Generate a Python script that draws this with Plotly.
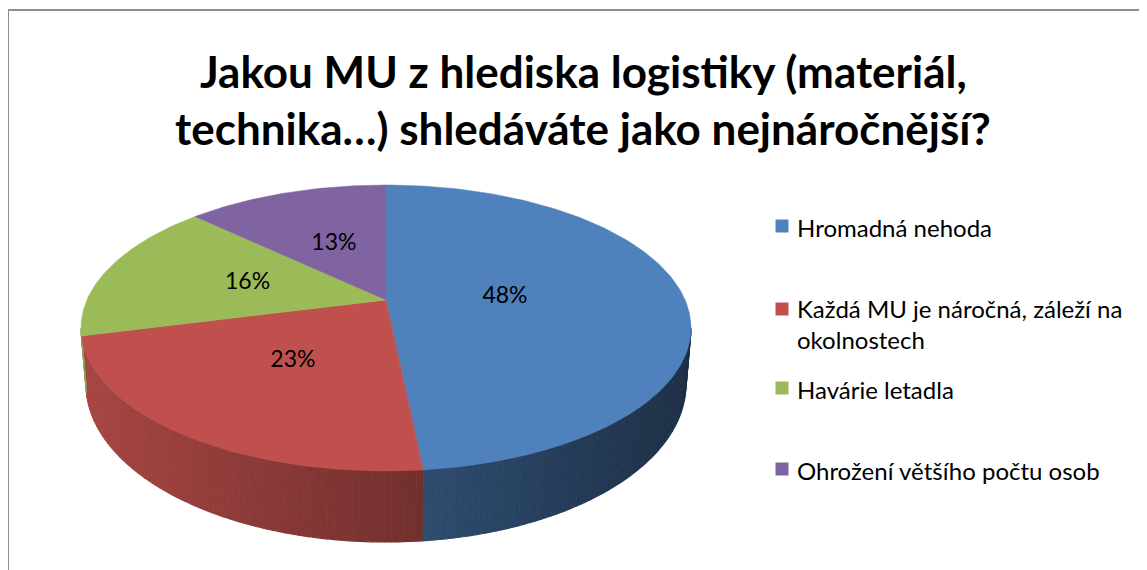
import math
import plotly.graph_objects as go

# ---- data ----
categories = ["Hromadná nehoda",
              "Každá MU je náročná, záleží na<br>okolnostech",
              "Havárie letadla",
              "Ohrožení většího počtu osob"]
values = [48.4, 22.6, 16.1, 12.9]   # percent shares
title_lines = ["Jakou MU z hlediska logistiky (materiál,",
               "technika…) shledáváte jako nejnáročnější?"]

# ---- style ----
colors = [(79, 129, 189), (192, 80, 77), (155, 187, 89), (128, 100, 162)]
FONT = "Lato"
W, H = 1147, 570
OFF = 8                         # default page body margin
A = 0.196                       # perspective shift of the pie centre
TOP = dict(cx=386, cy=328, rx=305, ry=143)
BOT = dict(cx=386, cy=384, rx=300, ry=158)
label_r = [0.40, 0.50, 0.49, 0.48]
legend_y = [226, 309, 388, 469]
legend_x = 782
LEG_SIZE = 24
LBL_SIZE = 23
TITLE_SIZE = 44


def proj(theta_deg, r, e):
    t = math.radians(theta_deg)
    u0, v0 = r * math.sin(t), r * math.cos(t)
    den = 1 + A * v0
    u = u0 * math.sqrt(1 - A * A) / den
    v = (v0 + A) / den
    return e["cx"] + e["rx"] * u, e["cy"] - e["ry"] * v, u


def rgb(c, f=1.0):
    return "rgb(%d,%d,%d)" % tuple(max(0, min(255, int(round(x * f)))) for x in c)


total = sum(values)
bounds = [0.0]
for v in values:
    bounds.append(bounds[-1] + v / total * 360.0)

fig = go.Figure()

# ---- side (visible front half) ----
lo = math.degrees(math.acos(-A))
hi = 360 - lo
for i in range(len(values)):
    s, e = max(bounds[i], lo), min(bounds[i + 1], hi)
    if e <= s:
        continue
    n = max(1, int(math.ceil((e - s) / 1.0)))
    for k in range(n):
        a0 = s + (e - s) * k / n
        a1 = s + (e - s) * (k + 1) / n
        steps = 2
        xs, ys = [], []
        for j in range(steps + 1):
            x, y, _ = proj(a0 + (a1 - a0) * j / steps, 1.0, TOP)
            xs.append(x); ys.append(y)
        for j in range(steps, -1, -1):
            x, y, _ = proj(a0 + (a1 - a0) * j / steps, 1.0, BOT)
            xs.append(x); ys.append(y)
        _, _, um = proj((a0 + a1) / 2, 1.0, TOP)
        f = 0.62 - 0.25 * um
        col = rgb(colors[i], f)
        fig.add_trace(go.Scatter(x=xs, y=ys, mode="lines", fill="toself",
                                 fillcolor=col, line=dict(color=col, width=1.2),
                                 hoverinfo="skip", showlegend=False))

# ---- top faces ----
for i in range(len(values)):
    x0, y0, _ = proj(0, 0.0, TOP)
    xs, ys = [x0], [y0]
    n = max(2, int((bounds[i + 1] - bounds[i]) / 1.0))
    for j in range(n + 1):
        x, y, _ = proj(bounds[i] + (bounds[i + 1] - bounds[i]) * j / n, 1.0, TOP)
        xs.append(x); ys.append(y)
    xs.append(x0); ys.append(y0)
    col = rgb(colors[i])
    fig.add_trace(go.Scatter(x=xs, y=ys, mode="lines", fill="toself",
                             fillcolor=col, line=dict(color=col, width=0.5),
                             name=categories[i].replace("<br>", " "),
                             hoverinfo="name", showlegend=False))

# ---- data labels ----
lx, ly, lt = [], [], []
for i in range(len(values)):
    mid = (bounds[i] + bounds[i + 1]) / 2
    x, y, _ = proj(mid, label_r[i], TOP)
    lx.append(x); ly.append(y); lt.append("%d%%" % round(values[i]))
fig.add_trace(go.Scatter(x=lx, y=ly, mode="text", text=lt,
                         textfont=dict(family=FONT, size=LBL_SIZE, color="black"),
                         hoverinfo="skip", showlegend=False))

# ---- legend (manual) ----
fig.add_trace(go.Scatter(x=[legend_x] * len(values), y=legend_y, mode="markers",
                         marker=dict(symbol="square", size=13,
                                     color=[rgb(c) for c in colors]),
                         hoverinfo="skip", showlegend=False))
annotations = []
for i, cat in enumerate(categories):
    nl = cat.count("<br>")
    annotations.append(dict(x=legend_x + 13, y=legend_y[i] + 1 + nl * 1.2 * LEG_SIZE / 2,
                            xref="x", yref="y",
                            text=cat, showarrow=False, xanchor="left", yanchor="middle",
                            align="left",
                            font=dict(family=FONT, size=LEG_SIZE, color="black")))

# ---- title ----
for line, yc in zip(title_lines, [71, 128]):
    annotations.append(dict(x=583, y=yc, xref="x", yref="y", text="<b>%s</b>" % line,
                            showarrow=False, xanchor="center", yanchor="middle",
                            font=dict(family=FONT, size=TITLE_SIZE, color="black")))

fig.update_layout(
    width=W - OFF, height=H - OFF, autosize=False,
    margin=dict(l=0, r=0, t=0, b=0),
    paper_bgcolor="white", plot_bgcolor="white",
    xaxis=dict(range=[OFF, W], visible=False, fixedrange=True),
    yaxis=dict(range=[H, OFF], visible=False, fixedrange=True),
    annotations=annotations,
    shapes=[dict(type="rect", xref="x", yref="y", x0=8, y0=10, x1=W + 20, y1=H + 20,
                 line=dict(color="#8e8e8e", width=2), fillcolor="rgba(0,0,0,0)",
                 layer="below")],
    showlegend=False,
)

fig.write_html("out.html")
